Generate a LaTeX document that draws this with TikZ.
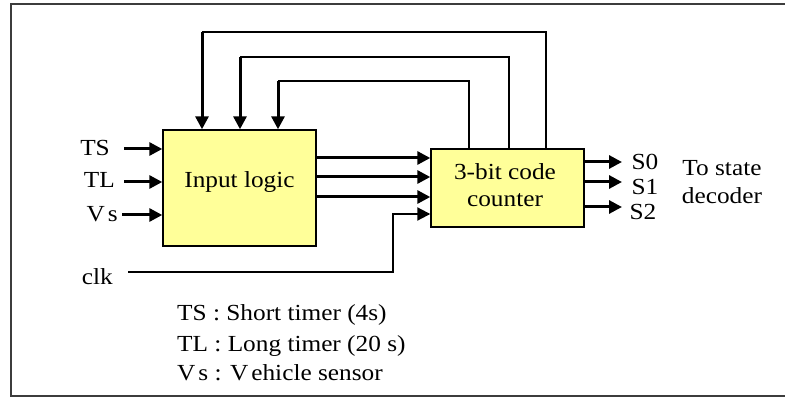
\documentclass[tikz,border=0pt]{standalone}
\usepackage{fontspec}
\setmainfont{Liberation Serif}[FakeStretch=1.1]
\usetikzlibrary{arrows.meta,calc}
\definecolor{boxfill}{RGB}{255,255,153}
\definecolor{framegray}{RGB}{60,60,60}
\begin{document}
\begin{tikzpicture}[x=1pt,y=-1pt,
  font=\fontsize{23}{27}\selectfont,
  block/.style={draw, line width=1.4pt, fill=boxfill, inner sep=0pt},
  txt/.style={inner sep=0pt},
  sig/.style={line width=3pt, -{Triangle[length=13pt,width=13pt]}},
  wire/.style={line width=1.3pt},
  clkwire/.style={line width=2pt, -{Triangle[length=13pt,width=13pt]}},
  framewire/.style={draw=framegray, line width=2pt}]
\useasboundingbox (0,0) rectangle (785,398);

% outer frame (open on the right)
\draw[framewire] (785,4) -- (11,4) -- (11,396) -- (268,396);
\draw[draw=framegray, line width=2.6pt] (268,396) -- (785,396);

% blocks
\node[block, minimum width=153pt, minimum height=116pt] (inlogic) at (239.5,188) {};
\node[txt, anchor=base] (inlogictxt) at (239.5,188) {Input logic};
\node[block, minimum width=153pt, minimum height=78pt] (counter) at (507.5,188) {};
\node[txt, anchor=base] (countertxt1) at (505,180) {3-bit code};
\node[txt, anchor=base] (countertxt2) at (505,207) {counter};

% external inputs
\node[txt, anchor=base east] (ts) at (110,156) {TS};
\node[txt, anchor=base east] (tl) at (115,188) {TL};
\node[txt, anchor=base east] (vs) at (118,222) {V\kern3pt s};
\node[txt, anchor=base east] (clk) at (113,285) {clk};
\coordinate (tsout) at (124,149);
\coordinate (tlout) at (124,182);
\coordinate (vsout) at (122,215);
\draw[sig] (tsout) -- (tsout -| inlogic.west);
\draw[sig] (tlout) -- (tlout -| inlogic.west);
\draw[sig] (vsout) -- (vsout -| inlogic.west);

% input logic -> counter
\draw[sig] (inlogic.east |- 0,158) -- (counter.west |- 0,158);
\draw[sig] (inlogic.east |- 0,177) -- (counter.west |- 0,177);
\draw[sig] (inlogic.east |- 0,197) -- (counter.west |- 0,197);

% clock
\coordinate (clkstart) at (128,272);
\coordinate (clkbend) at (393,272);
\draw[clkwire] (clkstart) -- (clkbend) -- (clkbend |- 0,214) -- (counter.west |- 0,214);

% feedback from counter to input logic
\coordinate (fb1r) at (546,32);
\coordinate (fb1l) at (202,32);
\coordinate (fb2r) at (509,57);
\coordinate (fb2l) at (240,57);
\coordinate (fb3r) at (469,81);
\coordinate (fb3l) at (278,81);
\draw[wire] (counter.north -| fb1r) -- (fb1r) -- (fb1l);
\draw[wire] (counter.north -| fb2r) -- (fb2r) -- (fb2l);
\draw[wire] (counter.north -| fb3r) -- (fb3r) -- (fb3l);
\draw[sig] (fb1l) -- (fb1l |- inlogic.north);
\draw[sig] (fb2l) -- (fb2l |- inlogic.north);
\draw[sig] (fb3l) -- (fb3l |- inlogic.north);

% outputs
\coordinate (s0tip) at (622,162);
\coordinate (s1tip) at (622,182);
\coordinate (s2tip) at (622,207);
\draw[sig] (counter.east |- s0tip) -- (s0tip);
\draw[sig] (counter.east |- s1tip) -- (s1tip);
\draw[sig] (counter.east |- s2tip) -- (s2tip);
\node[txt, anchor=base] (s0) at (645,170) {S0};
\node[txt, anchor=base] (s1) at (645,195) {S1};
\node[txt, anchor=base] (s2) at (643,220) {S2};
\node[txt, anchor=base] (dest1) at (722,176) {To state};
\node[txt, anchor=base] (dest2) at (722,204) {decoder};

% legend
\node[txt, anchor=base west] (leg1) at (177,320) {TS : Short timer (4s)};
\node[txt, anchor=base west] (leg2) at (177,351) {TL : Long timer (20 s)};
\node[txt, anchor=base west] (leg3) at (177,380) {V\kern3pt s : V\kern3pt ehicle sensor};
\end{tikzpicture}
\end{document}
